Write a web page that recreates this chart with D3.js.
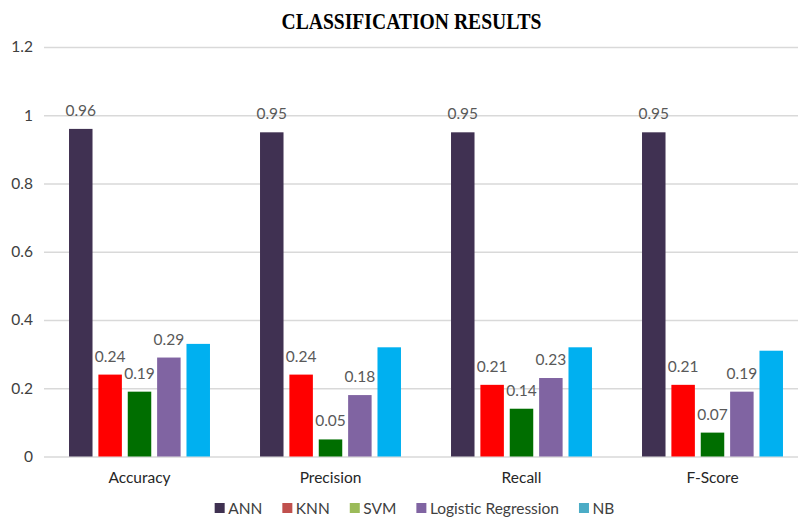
<!DOCTYPE html>
<html>
<head>
<meta charset="utf-8">
<script src="https://cdn.jsdelivr.net/npm/d3@7/dist/d3.min.js"></script>
<style>
  html, body { margin: 0; padding: 0; background: #fff; }
  svg { display: block; }
</style>
</head>
<body>
<svg id="chart" width="798" height="517"></svg>
<script>
// Classification metrics per model
const categories = ["Accuracy", "Precision", "Recall", "F-Score"];
const models = ["ANN", "KNN", "SVM", "Logistic Regression", "NB"];
const annValues = [0.96, 0.95, 0.95, 0.95];
const knnValues = [0.24, 0.24, 0.21, 0.21];
const svmValues = [0.19, 0.05, 0.14, 0.07];
const lrValues  = [0.29, 0.18, 0.23, 0.19];
const nbValues  = [0.33, 0.32, 0.32, 0.31];
const yTicks = [0, 0.2, 0.4, 0.6, 0.8, 1, 1.2];
const yTickLabels = ["0", "0.2", "0.4", "0.6", "0.8", "1", "1.2"];
const labelledModels = ["ANN", "KNN", "SVM", "Logistic Regression"];

const seriesValues = {
  "ANN": annValues,
  "KNN": knnValues,
  "SVM": svmValues,
  "Logistic Regression": lrValues,
  "NB": nbValues
};
const barColor = {
  "ANN": "#403152",
  "KNN": "#ff0000",
  "SVM": "#006e00",
  "Logistic Regression": "#8064a2",
  "NB": "#00b0f0"
};
const legendColor = {
  "ANN": "#3f3151",
  "KNN": "#c0504d",
  "SVM": "#9bbb59",
  "Logistic Regression": "#8064a2",
  "NB": "#4bacc6"
};

const svg = d3.select("#chart");
const W = 798;
const plot = { left: 44, right: 808, top: 47, bottom: 456.5 };

const x0 = d3.scaleBand()
  .domain(categories)
  .range([plot.left, plot.right])
  .paddingInner(0.262)
  .paddingOuter(0.131);

const x1 = d3.scaleBand()
  .domain(models)
  .range([0, x0.bandwidth()])
  .paddingInner(0.2)
  .paddingOuter(0);

const y = d3.scaleLinear()
  .domain([0, 1.2])
  .range([plot.bottom, plot.top]);

// Title
svg.append("text")
  .attr("x", 411.5)
  .attr("y", 28.5)
  .attr("text-anchor", "middle")
  .attr("font-family", "'Liberation Serif', 'Times New Roman', serif")
  .attr("font-weight", "bold")
  .attr("font-size", 22.5)
  .attr("textLength", 260)
  .attr("lengthAdjust", "spacingAndGlyphs")
  .attr("fill", "#000")
  .text("CLASSIFICATION RESULTS");

// Horizontal gridlines and y tick labels
const yAxis = d3.axisLeft(y)
  .tickValues(yTicks)
  .tickFormat((d, i) => yTickLabels[i])
  .tickSize(-(W - plot.left))
  .tickPadding(11);

const gy = svg.append("g")
  .attr("transform", `translate(${plot.left},0)`)
  .call(yAxis);
gy.select(".domain").remove();
gy.selectAll(".tick line")
  .attr("stroke", "#d9d9d9")
  .attr("stroke-width", 1.5);
gy.selectAll(".tick text")
  .attr("font-family", "Lato, 'Open Sans', sans-serif")
  .attr("font-size", 15.5)
  .attr("fill", "#404040");

// Category labels
const xAxis = d3.axisBottom(x0).tickSize(0).tickPadding(15);
const gx = svg.append("g")
  .attr("transform", `translate(0,${plot.bottom})`)
  .call(xAxis);
gx.select(".domain").remove();
gx.selectAll(".tick text")
  .attr("font-family", "Lato, 'Open Sans', sans-serif")
  .attr("font-size", 15.5)
  .attr("fill", "#262626");

// Bars
const rows = categories.map((c, i) => ({
  category: c,
  items: models.map(m => ({ model: m, value: seriesValues[m][i] }))
}));

const groups = svg.append("g").selectAll("g.group")
  .data(rows)
  .join("g")
  .attr("class", "group")
  .attr("transform", d => `translate(${x0(d.category)},0)`);

groups.selectAll("rect")
  .data(d => d.items)
  .join("rect")
  .attr("x", d => x1(d.model))
  .attr("y", d => y(d.value))
  .attr("width", x1.bandwidth())
  .attr("height", d => y(0) - y(d.value))
  .attr("fill", d => barColor[d.model]);

// Value labels above bars
groups.selectAll("text.value")
  .data(d => d.items.filter(it => labelledModels.includes(it.model)))
  .join("text")
  .attr("class", "value")
  .attr("x", d => x1(d.model) + x1.bandwidth() / 2)
  .attr("y", d => y(d.value) - 13)
  .attr("text-anchor", "middle")
  .attr("font-family", "Lato, 'Open Sans', sans-serif")
  .attr("font-size", 15.5)
  .attr("fill", "#595959")
  .text(d => d.value);

// Legend
const legend = svg.append("g");
const items = legend.selectAll("g")
  .data(models)
  .join("g");
items.append("rect")
  .attr("width", 10)
  .attr("height", 10)
  .attr("y", -11)
  .attr("fill", d => legendColor[d]);
items.append("text")
  .attr("x", 13.5)
  .attr("y", 0)
  .attr("font-family", "Lato, 'Open Sans', sans-serif")
  .attr("font-size", 15.5)
  .attr("fill", "#404040")
  .text(d => d);

let cursor = 0;
items.each(function () {
  const g = d3.select(this);
  const w = 13.5 + g.select("text").node().getComputedTextLength();
  g.attr("transform", `translate(${cursor},514)`);
  cursor += w + 20;
});
const legendWidth = cursor - 20;
legend.attr("transform", `translate(${414.5 - legendWidth / 2},0)`);
</script>
</body>
</html>
